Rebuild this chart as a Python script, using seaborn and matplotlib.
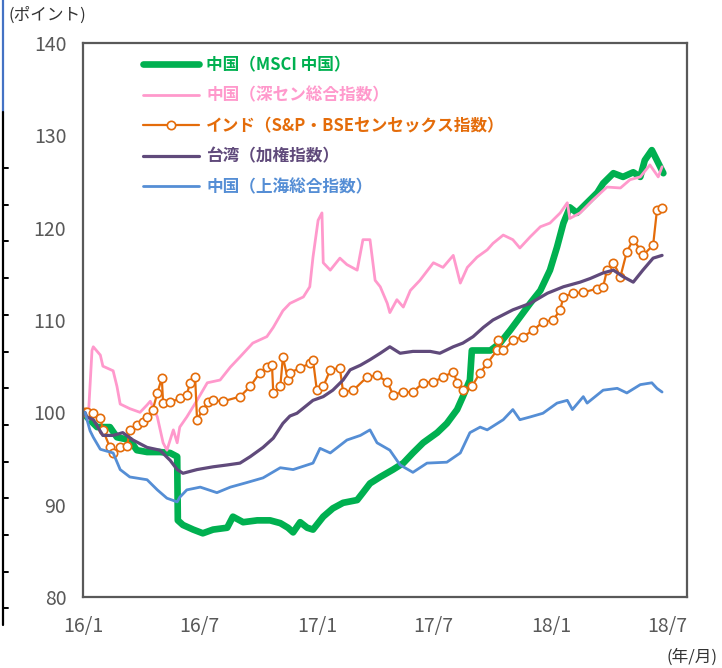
import pandas as pd
import seaborn as sns
import matplotlib.pyplot as plt
import matplotlib.dates as mdates
from matplotlib.lines import Line2D

# Days counted from START (index, 2016/1 = 100)
START = pd.Timestamp("2016-01-01")

green_day = [3, 6, 22, 42, 53, 73, 84, 100, 120, 136, 147, 148, 156, 172, 187, 203, 225, 234,
             250, 272, 292, 308, 320, 328, 339, 350, 359, 375, 390, 406, 428, 437, 448, 464,
             484, 500, 515, 531, 553, 568, 584, 593, 604, 607, 620, 636, 651, 667, 682, 698,
             714, 729, 740, 750, 760, 771, 787, 803, 812, 828, 843, 859, 870, 877, 888, 896, 906]
green_val = [100, 99.5, 98.4, 98.4, 97.3, 97.0, 95.9, 95.7, 95.7, 95.6, 95.2, 88.3, 87.8, 87.3,
             86.9, 87.3, 87.5, 88.7, 88.1, 88.3, 88.3, 88.0, 87.5, 87.0, 88.1, 87.5, 87.3, 88.7,
             89.6, 90.2, 90.5, 91.3, 92.3, 93.0, 93.8, 94.5, 95.6, 96.7, 97.8, 98.8, 100.3, 101.7,
             103.5, 106.7, 106.7, 106.7, 107.5, 108.9, 110.3, 111.8, 113.2, 115.4, 117.9, 120.5,
             122.2, 121.6, 122.7, 123.8, 124.8, 125.9, 125.5, 126.0, 125.5, 127.3, 128.4, 127.3, 125.9]

pink_day = [3, 8, 14, 16, 27, 31, 47, 53, 58, 73, 89, 100, 105, 116, 125, 131, 141, 147, 151,
            162, 178, 194, 214, 230, 245, 265, 287, 297, 312, 323, 344, 354, 359, 367, 373, 375,
            386, 401, 412, 428, 437, 448, 456, 464, 475, 479, 490, 500, 511, 526, 547, 562, 578,
            589, 600, 615, 631, 640, 656, 671, 682, 698, 714, 729, 745, 756, 760, 776, 796, 818,
            839, 854, 870, 885, 898, 904]
pink_val = [100, 99.2, 106.7, 107.1, 106.2, 105.0, 104.5, 102.8, 100.9, 100.4, 100.0, 100.8,
            101.2, 99.5, 96.7, 95.9, 98.1, 96.7, 98.4, 99.5, 101.3, 103.2, 103.5, 104.9, 106.0,
            107.5, 108.2, 109.2, 111.0, 111.8, 112.5, 113.6, 116.8, 120.8, 121.6, 116.2, 115.4,
            116.7, 116.0, 115.4, 118.7, 118.7, 114.3, 113.6, 111.8, 110.8, 112.2, 111.4, 113.2,
            114.3, 116.2, 115.7, 117.0, 114.0, 115.7, 116.8, 117.6, 118.3, 119.2, 118.7, 117.8,
            119.0, 120.1, 120.5, 121.6, 122.7, 121.0, 121.6, 123.0, 124.4, 124.3, 125.2, 125.5,
            126.8, 125.5, 126.6]

india_day = [3, 6, 16, 27, 31, 42, 47, 58, 69, 73, 84, 94, 100, 109, 116, 123, 125, 136, 151,
             162, 167, 175, 178, 187, 195, 203, 219, 245, 261, 276, 287, 295, 297, 308, 312, 320,
             323, 339, 354, 359, 365, 375, 386, 401, 406, 422, 443, 459, 475, 484, 500, 515, 531,
             547, 562, 578, 584, 593, 607, 620, 631, 646, 648, 656, 671, 687, 703, 718, 734, 745,
             750, 765, 781, 803, 812, 818, 828, 839, 849, 859, 870, 874, 890, 896, 904]
india_val = [100, 100, 99.9, 99.4, 98.1, 96.2, 95.6, 96.2, 96.4, 98.1, 98.6, 99.0, 99.5, 100.3,
             102.1, 103.7, 101.0, 101.1, 101.5, 101.9, 103.2, 103.8, 99.2, 100.3, 101.1, 101.3,
             101.2, 101.7, 102.8, 104.3, 104.9, 105.1, 102.1, 102.8, 106.0, 103.5, 104.3, 104.8,
             105.3, 105.7, 102.4, 102.8, 104.6, 104.8, 102.2, 102.4, 103.8, 104.0, 103.3, 101.9,
             102.2, 102.2, 103.2, 103.3, 103.8, 104.4, 103.2, 102.4, 102.8, 104.3, 105.3, 106.7,
             107.8, 106.7, 107.8, 108.2, 108.9, 109.8, 110.0, 111.1, 112.5, 112.9, 113.0, 113.4,
             113.6, 115.4, 116.2, 114.7, 117.4, 118.7, 117.6, 117.0, 118.1, 121.9, 122.1]

taiwan_day = [3, 6, 16, 31, 47, 62, 78, 100, 120, 136, 147, 156, 178, 203, 225, 245, 261, 281,
              297, 312, 323, 334, 359, 375, 390, 406, 417, 433, 448, 464, 479, 495, 515, 542,
              557, 578, 593, 609, 625, 640, 671, 698, 725, 750, 776, 792, 812, 828, 843, 859,
              874, 890, 904]
taiwan_val = [100, 99.5, 99.2, 97.5, 97.5, 97.8, 97.0, 96.2, 95.9, 94.8, 93.8, 93.4, 93.8, 94.1,
              94.3, 94.5, 95.2, 96.2, 97.2, 98.8, 99.6, 99.9, 101.3, 101.7, 102.4, 103.5, 104.6,
              105.1, 105.7, 106.4, 107.1, 106.4, 106.6, 106.6, 106.4, 107.1, 107.5, 108.2, 109.2,
              110.0, 111.1, 111.8, 112.9, 113.6, 114.1, 114.5, 115.1, 115.4, 114.7, 114.1, 115.4,
              116.7, 117.0]

shanghai_day = [3, 11, 16, 27, 47, 58, 73, 100, 116, 131, 147, 151, 162, 183, 209, 230, 256,
                281, 308, 328, 359, 370, 386, 412, 433, 448, 459, 479, 495, 515, 537, 568, 589,
                604, 620, 631, 656, 671, 682, 698, 718, 740, 756, 764, 781, 787, 812, 834, 849,
                870, 888, 896, 904]
shanghai_val = [100, 98.0, 97.3, 96.0, 95.6, 93.8, 93.0, 92.7, 91.6, 90.7, 90.3, 90.8, 91.6,
                91.9, 91.3, 91.9, 92.4, 92.9, 94.0, 93.8, 94.5, 96.1, 95.6, 97.0, 97.5, 98.1,
                96.7, 95.9, 94.3, 93.5, 94.5, 94.6, 95.6, 97.8, 98.4, 98.1, 99.2, 100.3, 99.2,
                99.5, 99.9, 101.0, 101.3, 100.3, 101.7, 101.0, 102.4, 102.6, 102.1, 103.0, 103.2,
                102.6, 102.2]

labels = ["中国（MSCI 中国）", "中国（深セン総合指数）", "インド（S&P・BSEセンセックス指数）",
          "台湾（加権指数）", "中国（上海総合指数）"]
colors = ["#00B050", "#FF99CC", "#E46C0A", "#604A7B", "#558ED5"]
widths = [4.8, 2.0, 1.6, 2.3, 2.0]


def to_frame(days, vals):
    return pd.DataFrame({"date": START + pd.to_timedelta(days, unit="D"), "value": vals})


sns.set_style("white")
plt.rcParams["font.family"] = ["Noto Sans CJK JP", "DejaVu Sans"]

fig = plt.figure(figsize=(7.22, 6.68), dpi=100)
ax = fig.add_axes([0.115, 0.1063, 0.8366, 0.8293])

series = [(green_day, green_val), (pink_day, pink_val), (india_day, india_val),
          (taiwan_day, taiwan_val), (shanghai_day, shanghai_val)]
for (days, vals), label, color, lw in zip(series, labels, colors, widths):
    extra = {}
    if label.startswith("インド"):
        extra = dict(marker="o", markersize=6, markerfacecolor="white",
                     markeredgecolor=color, markeredgewidth=1.2)
    sns.lineplot(data=to_frame(days, vals), x="date", y="value", ax=ax,
                 color=color, lw=lw, label=label, **extra)

ax.set_xlim(pd.Timestamp("2016-01-01"), pd.Timestamp("2018-08-01"))
ax.set_ylim(80, 140)
ax.set_yticks(range(80, 141, 10))
ax.xaxis.set_major_locator(mdates.MonthLocator(bymonth=[1, 7]))
ax.xaxis.set_major_formatter(plt.FuncFormatter(
    lambda v, pos: f"{mdates.num2date(v).year % 100}/{mdates.num2date(v).month}"))
ax.set_xlabel("")
ax.set_ylabel("")

for side in ["left", "right", "top", "bottom"]:
    ax.spines[side].set_color("#595959")
    ax.spines[side].set_linewidth(1.6)
ax.tick_params(direction="in", length=6, width=1.3, color="#595959",
               labelsize=14, labelcolor="#595959")
ax.tick_params(axis="x", pad=14)
ax.tick_params(axis="y", pad=12)

leg = ax.legend(loc="upper left", bbox_to_anchor=(0.099, 0.976), frameon=False,
                prop={"weight": "bold", "size": 12}, handlelength=3.4,
                handletextpad=0.4, labelspacing=0.75, borderpad=0, borderaxespad=0)
for text, color in zip(leg.get_texts(), colors):
    text.set_color(color)

fig.text(8 / 722, 1 - 15 / 668, "(ポイント)", ha="left", va="center", fontsize=12, color="#333333")
fig.text(718 / 722, 1 - 657 / 668, "(年/月)", ha="right", va="center", fontsize=12, color="#333333")

# thin frame edge at the far left of the screenshot
fig.add_artist(Line2D([3 / 722, 3 / 722], [1, 1 - 112 / 668], color="#4472C4", lw=1.6))
fig.add_artist(Line2D([3 / 722, 3 / 722], [1 - 112 / 668, 1 - 625 / 668], color="black", lw=1.6))
for k in range(13):
    y = 1 - (168 + 36.7 * k) / 668
    fig.add_artist(Line2D([3 / 722, 8 / 722], [y, y], color="black", lw=1.4))

fig.savefig("out.png", dpi=100)
